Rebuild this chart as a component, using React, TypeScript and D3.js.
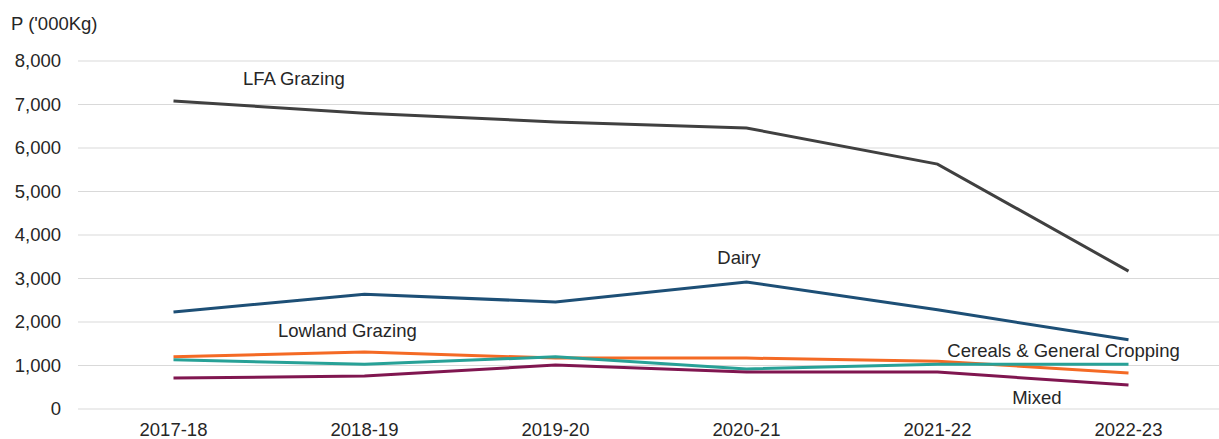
import * as d3 from "d3";

// Exploitations par type – P ('000Kg)
const years = ["2017-18", "2018-19", "2019-20", "2020-21", "2021-22", "2022-23"];
const lfaGrazing = [7080, 6800, 6600, 6460, 5630, 3170];
const dairy = [2230, 2640, 2460, 2920, 2280, 1590];
const lowlandGrazing = [1200, 1310, 1170, 1170, 1100, 830];
const cereals = [1130, 1030, 1200, 920, 1030, 1030];
const mixed = [710, 760, 1010, 850, 850, 550];
const yTicks = [0, 1000, 2000, 3000, 4000, 5000, 6000, 7000, 8000];

const series = [
  { name: "LFA Grazing", values: lfaGrazing, color: "#404040", label: { x: 0.63, v: 7600 } },
  { name: "Dairy", values: dairy, color: "#1d4f76", label: { x: 2.96, v: 3480 } },
  { name: "Lowland Grazing", values: lowlandGrazing, color: "#f46a25", label: { x: 0.91, v: 1800 } },
  { name: "Cereals & General Cropping", values: cereals, color: "#28a197", label: { x: 4.66, v: 1340 } },
  { name: "Mixed", values: mixed, color: "#801650", label: { x: 4.52, v: 260 } },
];

export default function App() {
  const width = 1219;
  const height = 439;
  const margin = { top: 61, left: 78, bottom: 30 };
  const step = 191;
  const fs = 18.5;

  const x = d3
    .scaleLinear()
    .domain([0, years.length - 1])
    .range([margin.left + step / 2, margin.left + step / 2 + step * (years.length - 1)]);
  const y = d3.scaleLinear().domain([0, 8000]).range([409, margin.top]);
  const fmt = d3.format(",");

  const line = d3
    .line<number>()
    .x((_, i) => x(i))
    .y((d) => y(d));

  const font = "'Liberation Sans', Arial, sans-serif";

  return (
    <svg
      width={width}
      height={height}
      style={{ position: "absolute", left: 0, top: 0, background: "#fff" }}
      fontFamily={font}
    >
      {/* Grille */}
      {yTicks.map((t) => (
        <line key={t} x1={margin.left} x2={width} y1={y(t)} y2={y(t)} stroke="#d9d9d9" strokeWidth={1} />
      ))}
      {/* Axe Y */}
      {yTicks.map((t) => (
        <text key={t} x={61} y={y(t)} dy="0.35em" textAnchor="end" fontSize={fs} fill="#262626">
          {fmt(t)}
        </text>
      ))}
      <text x={11} y={24} dy="0.35em" fontSize={fs} fill="#262626">
        P ('000Kg)
      </text>
      {/* Axe X */}
      {years.map((yr, i) => (
        <text key={yr} x={x(i)} y={430} dy="0.35em" textAnchor="middle" fontSize={fs} fill="#262626">
          {yr}
        </text>
      ))}
      {/* Lignes */}
      {series.map((s) => (
        <path key={s.name} d={line(s.values) || ""} fill="none" stroke={s.color} strokeWidth={3} />
      ))}
      {/* Étiquettes */}
      {series.map((s) => (
        <text
          key={s.name}
          x={x(s.label.x)}
          y={y(s.label.v)}
          dy="0.35em"
          textAnchor="middle"
          fontSize={fs}
          fill="#262626"
        >
          {s.name}
        </text>
      ))}
    </svg>
  );
}
